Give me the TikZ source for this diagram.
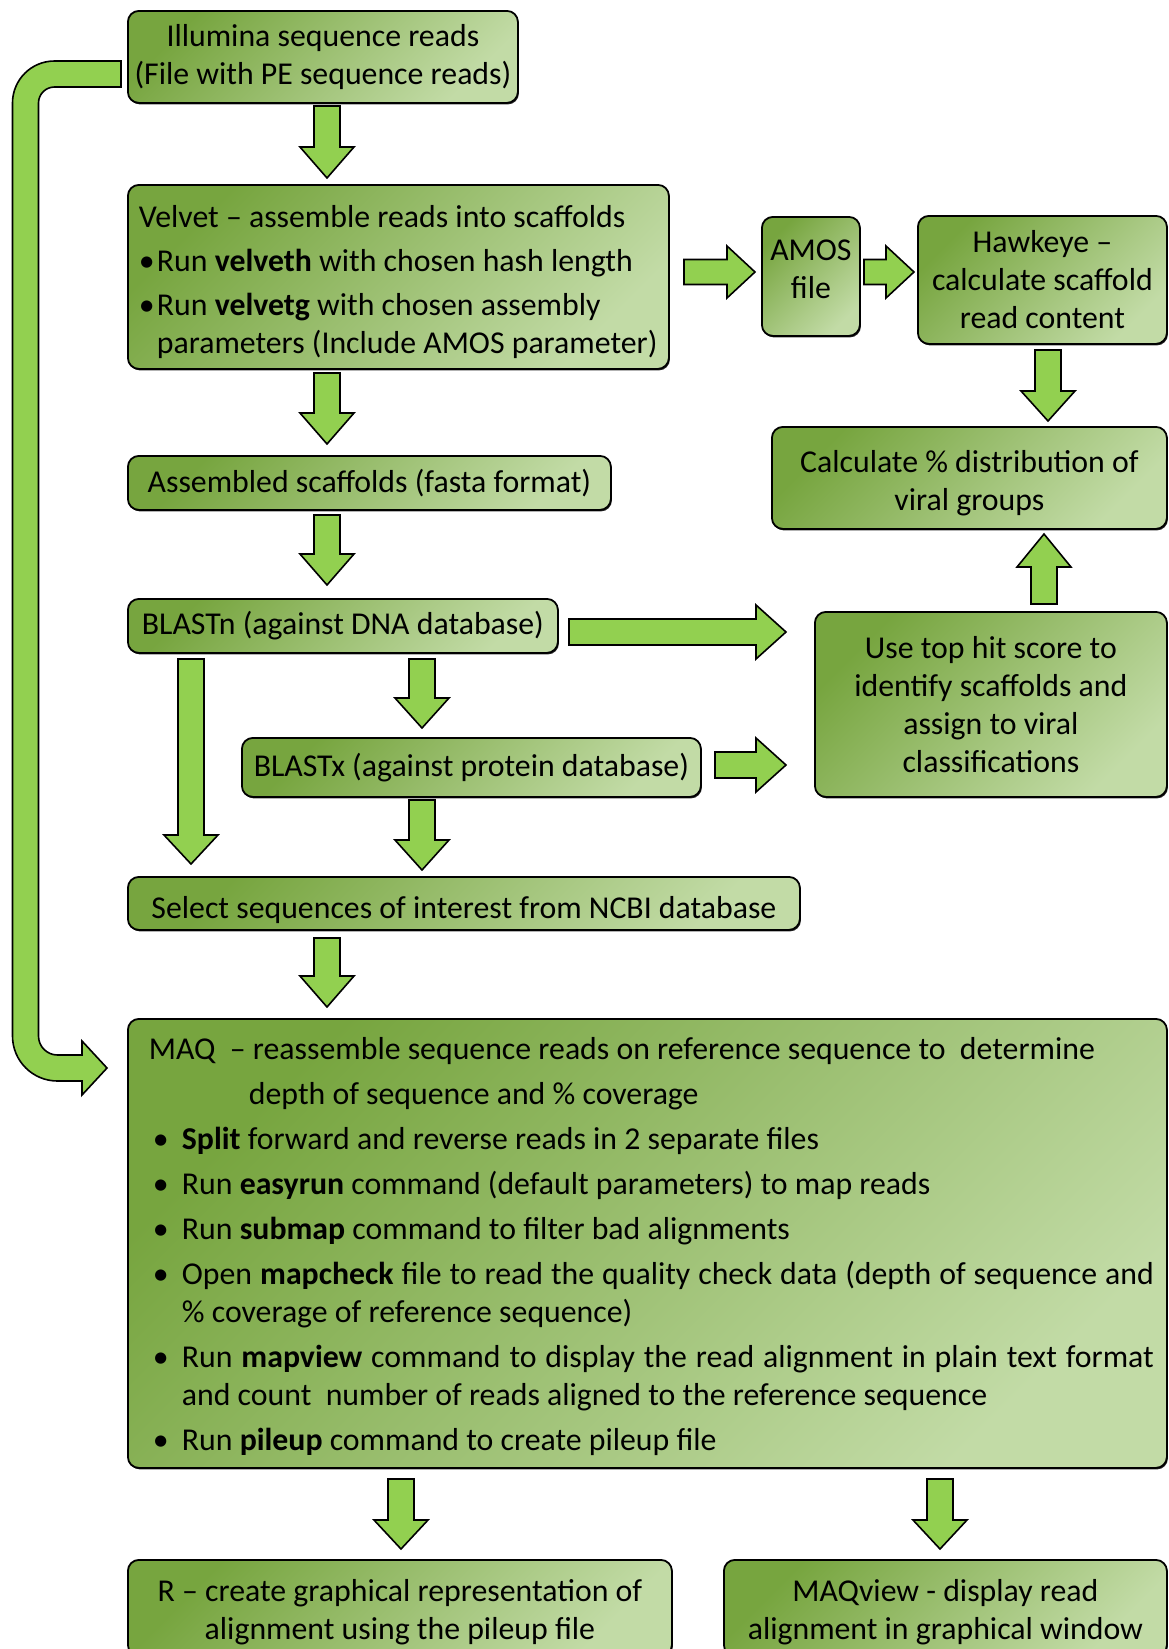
\documentclass[tikz,border=0pt]{standalone}
\usepackage{fontspec}
\setmainfont{Carlito}
\usetikzlibrary{calc,shadows}
\definecolor{gDark}{HTML}{77A53F}
\definecolor{gLight}{HTML}{C2DBA6}
\definecolor{aGreen}{HTML}{92D050}
\newcommand\bigfont{\fontsize{31.8pt}{38pt}\selectfont}
\newcommand\blockarrow[5]{%
  \coordinate (hb) at ($(#2)!#5!(#1)$);
  \filldraw[barrow] ($(#1)!#3!90:(#2)$) -- ($(hb)!#3!90:(#2)$) -- ($(hb)!#4!90:(#2)$) -- (#2)
    -- ($(hb)!#4!-90:(#2)$) -- ($(hb)!#3!-90:(#2)$) -- ($(#1)!#3!-90:(#2)$) -- cycle;
}
\newcommand\bl{\makebox[18pt][l]{•}}
\newcommand\mb{\makebox[33pt][l]{\hspace*{4pt}•}}
\newcommand\nsp{\spaceskip=0pt\xspaceskip=0pt\relax}
\begin{document}
\begin{tikzpicture}[x=1pt,y=-1pt,
  box/.style={draw=black, line width=1.8pt, rounded corners=11pt,
    top color=gDark, bottom color=gLight, shading angle=45,
    drop shadow={shadow xshift=1pt,shadow yshift=-1.5pt,fill=black,opacity=0.85},
    anchor=north west, inner sep=0pt, font=\bigfont, text=black, align=center},
  barrow/.style={fill=aGreen, draw=black, line width=1.6pt, line join=miter}]
\useasboundingbox (0,0) rectangle (1168,1649);
\clip (0,0) rectangle (1168,1649);

% boxes
\node[box, minimum width=390pt, minimum height=92pt] (ill) at (127,10)
  {Illumina sequence reads\\(File with PE sequence reads)};
\node[box, minimum width=541pt, minimum height=184pt, text width=519pt, inner xsep=11pt, align=flush left] (vel) at (127,184)
  {\nsp\mbox{\rule{0pt}{32pt}Velvet – assemble reads into scaffolds}\\[6pt]
   \mbox{\bl Run \textbf{velveth} with chosen hash length}\\[6pt]
   \mbox{\bl Run \textbf{velvetg} with chosen assembly}\\
   \mbox{\hspace*{18pt}parameters (Include AMOS parameter)}};
\node[box, minimum width=98pt, minimum height=119pt] (amos) at (761,216) {AMOS\\file\rule[-15pt]{0pt}{0pt}};
\node[box, minimum width=249pt, minimum height=128pt] (hawk) at (917,215)
  {Hawkeye –\\calculate scaffold\\read content};
\node[box, minimum width=395pt, minimum height=102pt] (calc) at (771,426)
  {\rule{0pt}{32pt}Calculate \% distribution of\\viral groups};
\node[box, minimum width=483pt, minimum height=54pt] (asm) at (127,455)
  {Assembled scaffolds (fasta format)};
\node[box, minimum width=430pt, minimum height=54pt] (bn) at (127,598)
  {BLASTn (against DNA database)};
\node[box, minimum width=352pt, minimum height=185pt] (top) at (814,611)
  {Use top hit score to\\identify scaffolds and\\assign to viral\\classifications};
\node[box, minimum width=459pt, minimum height=59pt] (bx) at (241,737)
  {BLASTx (against protein database)};
\node[box, minimum width=672pt, minimum height=53pt] (sel) at (127,876)
  {\rule{0pt}{36pt}Select sequences of interest from NCBI database};
\node[box, minimum width=1039pt, minimum height=449pt, text width=997pt, inner xsep=21pt, align=flush left] (maq) at (127,1018)
  {\nsp\mbox{\rule{0pt}{28pt}MAQ\ \ – reassemble sequence reads on reference sequence to\ \ determine}\\[7pt]
   \mbox{\hspace*{100pt}depth of sequence and \% coverage}\\[7pt]
   \mbox{\mb\textbf{Split} forward and reverse reads in 2 separate files}\\[7pt]
   \mbox{\mb Run \textbf{easyrun} command (default parameters) to map reads}\\[7pt]
   \mbox{\mb Run \textbf{submap} command to filter bad alignments}\\[7pt]
   \mbox{\mb\makebox[972pt][s]{Open \textbf{mapcheck} file to read the quality check data (depth of sequence and}}\\
   \mbox{\hspace*{33pt}\% coverage of reference sequence)}\\[7pt]
   \mbox{\mb\makebox[972pt][s]{Run \textbf{mapview} command to display the read alignment in plain text format}}\\
   \mbox{\hspace*{33pt}and count\ \ number of reads aligned to the reference sequence}\\[7pt]
   \mbox{\mb Run \textbf{pileup} command to create pileup file}};
\node[box, minimum width=544pt, minimum height=96pt] (r) at (127,1559)
  {\rule{0pt}{30pt}R – create graphical representation of\\alignment using the pileup file};
\node[box, minimum width=443pt, minimum height=96pt] (mv) at (723,1559)
  {\rule{0pt}{30pt}MAQview - display read\\alignment in graphical window};

% arrows
\coordinate (a1t) at (327,106);  \coordinate (a1h) at (327,178);  \blockarrow{a1t}{a1h}{13pt}{27pt}{31pt}
\coordinate (a2t) at (327,373);  \coordinate (a2h) at (327,444);  \blockarrow{a2t}{a2h}{13pt}{27pt}{31pt}
\coordinate (a3t) at (327,515);  \coordinate (a3h) at (327,585);  \blockarrow{a3t}{a3h}{13pt}{27pt}{31pt}
\coordinate (a4t) at (327,938);  \coordinate (a4h) at (327,1007); \blockarrow{a4t}{a4h}{13pt}{27pt}{31pt}
\coordinate (a5t) at (422,659);  \coordinate (a5h) at (422,728);  \blockarrow{a5t}{a5h}{13pt}{27pt}{30pt}
\coordinate (a6t) at (422,800);  \coordinate (a6h) at (422,870);  \blockarrow{a6t}{a6h}{13pt}{27pt}{30pt}
\coordinate (a7t) at (191,659);  \coordinate (a7h) at (191,864);  \blockarrow{a7t}{a7h}{13pt}{27pt}{29pt}
\coordinate (a8t) at (684,272);  \coordinate (a8h) at (755,272);  \blockarrow{a8t}{a8h}{12.5pt}{26pt}{28pt}
\coordinate (a9t) at (864,272);  \coordinate (a9h) at (914,272);  \blockarrow{a9t}{a9h}{12.5pt}{26pt}{28pt}
\coordinate (a10t) at (1048,350); \coordinate (a10h) at (1048,421); \blockarrow{a10t}{a10h}{13pt}{27pt}{30pt}
\coordinate (a11t) at (1044,604); \coordinate (a11h) at (1044,534); \blockarrow{a11t}{a11h}{13pt}{27pt}{33pt}
\coordinate (a12t) at (569,632);  \coordinate (a12h) at (786,632);  \blockarrow{a12t}{a12h}{13pt}{27pt}{30pt}
\coordinate (a13t) at (715,765);  \coordinate (a13h) at (786,765);  \blockarrow{a13t}{a13h}{13pt}{27pt}{30pt}
\coordinate (a14t) at (401,1479); \coordinate (a14h) at (401,1549); \blockarrow{a14t}{a14h}{13pt}{27pt}{29pt}
\coordinate (a15t) at (940,1479); \coordinate (a15h) at (940,1549); \blockarrow{a15t}{a15h}{13pt}{27pt}{29pt}

% feedback arrow from Illumina to MAQ
\coordinate (fbs) at (121,73.5);
\coordinate (fbe) at (107,1068);
\filldraw[barrow] (121,61) -- (54.5,61) arc[start angle=-90, end angle=-180, radius=42]
  -- (12.5,1036) arc[start angle=180, end angle=90, radius=45]
  -- (82,1081) -- (82,1095) -- (fbe) -- (82,1041) -- (82,1055) -- (57.5,1055)
  arc[start angle=90, end angle=180, radius=19]
  -- (38.5,103) arc[start angle=180, end angle=270, radius=16]
  -- (121,87) -- cycle;
\end{tikzpicture}
\end{document}
